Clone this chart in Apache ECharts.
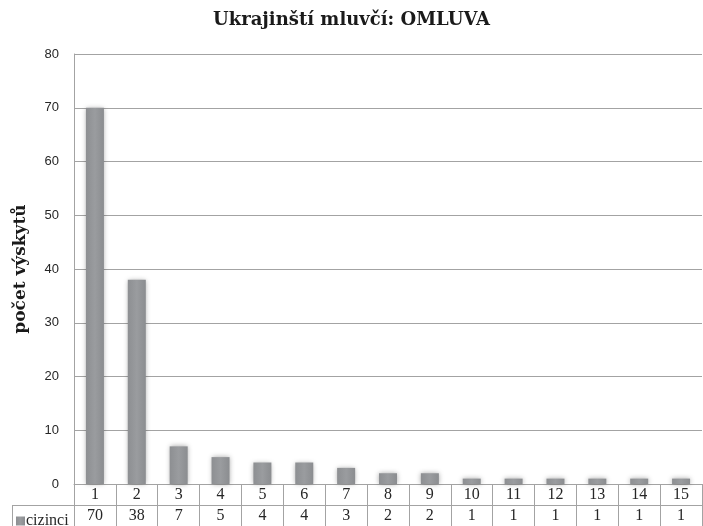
<!DOCTYPE html>
<html>
<head>
<meta charset="utf-8">
<script src="https://cdn.jsdelivr.net/npm/echarts@6/dist/echarts.min.js"></script>
<style>
  html, body { margin: 0; padding: 0; background: #fff; }
  #chart { width: 703px; height: 526px; }
</style>
</head>
<body>
<div id="chart"></div>
<script>
// data
var categories = ['1', '2', '3', '4', '5', '6', '7', '8', '9', '10', '11', '12', '13', '14', '15'];
var cizinci = [70, 38, 7, 5, 4, 4, 3, 2, 2, 1, 1, 1, 1, 1, 1];
var yTicks = { min: 0, max: 80, interval: 10 };

var lineColor = '#a3a3a3';
var serif = '"Liberation Serif", "DejaVu Serif", serif';

var chart = echarts.init(document.getElementById('chart'));

chart.setOption({
  backgroundColor: '#fff',
  animation: false,
  title: {
    text: 'Ukrajinští mluvčí: OMLUVA',
    left: 'center',
    top: 6,
    textStyle: {
      fontFamily: '"DejaVu Serif", serif',
      fontWeight: 'bold',
      fontSize: 18,
      color: '#1a1a1a'
    }
  },
  legend: {
    left: 11,
    top: 508,
    icon: 'rect',
    itemWidth: 9,
    itemHeight: 9,
    data: ['cizinci'],
    selectedMode: false,
    textStyle: {
      fontFamily: serif,
      fontSize: 16,
      color: '#262626',
      padding: [0, 0, 0, -4]
    }
  },
  grid: {
    left: 74,
    right: 1,
    top: 54,
    bottom: 42
  },
  xAxis: [{
    type: 'category',
    data: categories,
    position: 'bottom',
    axisLine: { lineStyle: { color: lineColor, width: 1 } },
    axisTick: { show: true, length: 42, lineStyle: { color: lineColor } },
    axisLabel: {
      margin: 3,
      fontFamily: serif,
      fontSize: 16,
      color: '#262626'
    }
  }, {
    type: 'category',
    data: cizinci.map(String),
    position: 'bottom',
    offset: 21,
    axisLine: { lineStyle: { color: lineColor, width: 1 } },
    axisTick: { show: false },
    axisLabel: {
      margin: 3,
      fontFamily: serif,
      fontSize: 16,
      color: '#262626'
    }
  }],
  yAxis: {
    type: 'value',
    min: yTicks.min,
    max: yTicks.max,
    interval: yTicks.interval,
    name: 'počet výskytů',
    nameLocation: 'middle',
    nameGap: 45,
    nameTextStyle: {
      fontFamily: '"DejaVu Serif", serif',
      fontWeight: 'bold',
      fontSize: 17,
      color: '#1a1a1a'
    },
    axisLine: { show: true, lineStyle: { color: lineColor } },
    axisTick: { show: false },
    axisLabel: {
      margin: 15,
      fontFamily: '"Liberation Sans", sans-serif',
      fontSize: 13,
      color: '#262626'
    },
    splitLine: { lineStyle: { color: lineColor } }
  },
  series: [{
    name: 'cizinci',
    type: 'bar',
    data: cizinci,
    barWidth: 18,
    itemStyle: {
      color: new echarts.graphic.LinearGradient(0, 0, 1, 0, [
        { offset: 0, color: '#8d8f92' },
        { offset: 0.5, color: '#9a9c9f' },
        { offset: 1, color: '#8b8d90' }
      ]),
      shadowColor: 'rgba(0,0,0,0.35)',
      shadowBlur: 5
    }
  }],
  graphic: [{
    type: 'line',
    shape: { x1: 12, y1: 505.5, x2: 74, y2: 505.5 },
    style: { stroke: lineColor, lineWidth: 1 }
  }, {
    type: 'line',
    shape: { x1: 12.5, y1: 505, x2: 12.5, y2: 526 },
    style: { stroke: lineColor, lineWidth: 1 }
  }]
});
</script>
</body>
</html>
